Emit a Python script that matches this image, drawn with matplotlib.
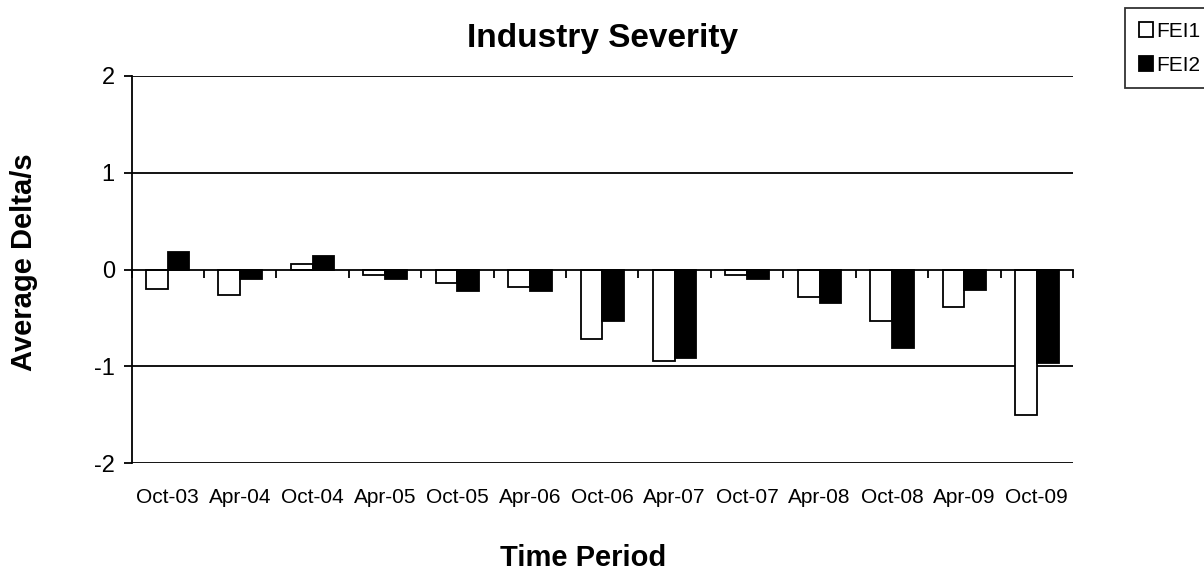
import matplotlib
matplotlib.use("Agg")
import matplotlib.pyplot as plt
import matplotlib.transforms as mtransforms
import numpy as np

plt.rcParams['font.family'] = ['Liberation Sans', 'DejaVu Sans']

categories = ["Oct-03", "Apr-04", "Oct-04", "Apr-05", "Oct-05", "Apr-06", "Oct-06",
              "Apr-07", "Oct-07", "Apr-08", "Oct-08", "Apr-09", "Oct-09"]
fei1 = [-0.20, -0.26, 0.06, -0.06, -0.14, -0.18, -0.72, -0.945, -0.06, -0.285, -0.53, -0.385, -1.50]
fei2 = [0.18, -0.10, 0.14, -0.10, -0.22, -0.22, -0.53, -0.91, -0.10, -0.35, -0.81, -0.21, -0.97]
yticks = [-2, -1, 0, 1, 2]

fig = plt.figure(figsize=(12.04, 5.73), dpi=100)
ax = fig.add_axes([131.5/1204, 1-463/573, (1073-131.5)/1204, (463-76)/573])

x = np.arange(len(categories))
w = 0.3
b1 = ax.bar(x - w/2, fei1, w, facecolor='white', edgecolor='black', linewidth=1.3, label='FEI1', zorder=3)
b2 = ax.bar(x + w/2, fei2, w, facecolor='black', edgecolor='black', linewidth=1.3, label='FEI2', zorder=3)

ax.set_xlim(-0.5, len(categories) - 0.5)
ax.set_ylim(-2, 2)
for v in [2, 1, -1, -2]:
    ax.axhline(v, color='black', linewidth=1.3, zorder=1)

ax.spines['top'].set_visible(False)
ax.spines['right'].set_visible(False)
ax.spines['bottom'].set_position(('data', 0))
ax.spines['bottom'].set_linewidth(1.3)
ax.spines['left'].set_linewidth(1.3)
ax.spines['bottom'].set_zorder(4)

ax.set_xticks(np.arange(len(categories) + 1) - 0.5)
ax.set_xticklabels([])
ax.tick_params(axis='x', direction='out', length=6, width=1.3)
ax.set_yticks(yticks)
ax.set_yticklabels([str(t) for t in yticks], fontsize=17)
ax.tick_params(axis='y', direction='out', length=6, width=1.3, pad=6)

trans = mtransforms.blended_transform_factory(ax.transData, ax.transAxes)
for i, c in enumerate(categories):
    ax.text(i, -0.088, c, transform=trans, ha='center', va='center', fontsize=15)

ax.set_title("Industry Severity", fontsize=24, fontweight='bold', pad=21)
fig.text(24/1204, 1-262/573, "Average Delta/s", rotation=90, ha='center', va='center',
         fontsize=21, fontweight='bold')
fig.text(583/1204, 1-565.7/573, "Time Period", ha='center', va='baseline',
         fontsize=21, fontweight='bold')

leg = fig.legend(handles=[b1, b2], loc='upper left', bbox_to_anchor=(1125/1204, 1-8/573),
                 frameon=True, fancybox=False, edgecolor='black', fontsize=15,
                 handlelength=0.7, handleheight=0.7, handletextpad=0.15,
                 borderpad=0.65, labelspacing=0.72, borderaxespad=0)
leg.get_frame().set_linewidth(1.3)

fig.savefig("out.png", dpi=100)
